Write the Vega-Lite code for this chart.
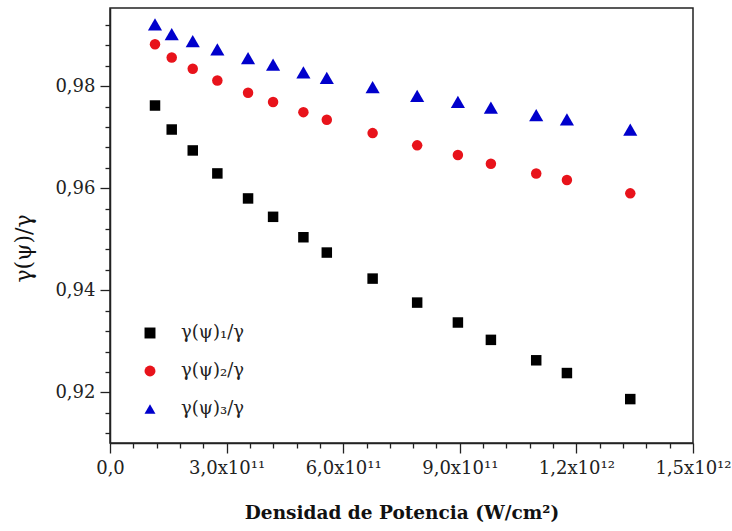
{
  "$schema": "https://vega.github.io/schema/vega-lite/v6.json",
  "autosize": {"type": "none"},
  "width": 583,
  "height": 435,
  "padding": {"left": 110, "top": 8, "right": 39, "bottom": 88},
  "background": "white",
  "config": {
    "font": "DejaVu Serif",
    "view": {"stroke": "#222", "strokeWidth": 1.5},
    "axis": {
      "domainColor": "#222",
      "domainWidth": 1.5,
      "tickColor": "#222",
      "tickWidth": 1.3,
      "grid": false,
      "labelFont": "DejaVu Serif",
      "labelFontSize": 18,
      "labelColor": "#222",
      "titleFont": "DejaVu Serif",
      "titleColor": "#111"
    },
    "legend": {
      "labelFont": "DejaVu Serif"
    }
  },
  "data": {
    "values": [
      {"serie": "γ(ψ)₁/γ", "P": 1.158e11, "g": 0.9762},
      {"serie": "γ(ψ)₁/γ", "P": 1.588e11, "g": 0.9715},
      {"serie": "γ(ψ)₁/γ", "P": 2.129e11, "g": 0.9674},
      {"serie": "γ(ψ)₁/γ", "P": 2.762e11, "g": 0.9629},
      {"serie": "γ(ψ)₁/γ", "P": 3.552e11, "g": 0.9580},
      {"serie": "γ(ψ)₁/γ", "P": 4.196e11, "g": 0.9544},
      {"serie": "γ(ψ)₁/γ", "P": 4.976e11, "g": 0.9504},
      {"serie": "γ(ψ)₁/γ", "P": 5.578e11, "g": 0.9474},
      {"serie": "γ(ψ)₁/γ", "P": 6.757e11, "g": 0.9423},
      {"serie": "γ(ψ)₁/γ", "P": 7.903e11, "g": 0.9376},
      {"serie": "γ(ψ)₁/γ", "P": 8.951e11, "g": 0.9337},
      {"serie": "γ(ψ)₁/γ", "P": 9.800e11, "g": 0.9303},
      {"serie": "γ(ψ)₁/γ", "P": 1.0966e12, "g": 0.9263},
      {"serie": "γ(ψ)₁/γ", "P": 1.1756e12, "g": 0.9238},
      {"serie": "γ(ψ)₁/γ", "P": 1.3386e12, "g": 0.9187},
      {"serie": "γ(ψ)₂/γ", "P": 1.158e11, "g": 0.9882},
      {"serie": "γ(ψ)₂/γ", "P": 1.588e11, "g": 0.9856},
      {"serie": "γ(ψ)₂/γ", "P": 2.129e11, "g": 0.9834},
      {"serie": "γ(ψ)₂/γ", "P": 2.762e11, "g": 0.9811},
      {"serie": "γ(ψ)₂/γ", "P": 3.552e11, "g": 0.9787},
      {"serie": "γ(ψ)₂/γ", "P": 4.196e11, "g": 0.9769},
      {"serie": "γ(ψ)₂/γ", "P": 4.976e11, "g": 0.9749},
      {"serie": "γ(ψ)₂/γ", "P": 5.578e11, "g": 0.9734},
      {"serie": "γ(ψ)₂/γ", "P": 6.757e11, "g": 0.9708},
      {"serie": "γ(ψ)₂/γ", "P": 7.903e11, "g": 0.9684},
      {"serie": "γ(ψ)₂/γ", "P": 8.951e11, "g": 0.9665},
      {"serie": "γ(ψ)₂/γ", "P": 9.800e11, "g": 0.9648},
      {"serie": "γ(ψ)₂/γ", "P": 1.0966e12, "g": 0.9629},
      {"serie": "γ(ψ)₂/γ", "P": 1.1756e12, "g": 0.9616},
      {"serie": "γ(ψ)₂/γ", "P": 1.3386e12, "g": 0.9590},
      {"serie": "γ(ψ)₃/γ", "P": 1.158e11, "g": 0.9921},
      {"serie": "γ(ψ)₃/γ", "P": 1.588e11, "g": 0.9902},
      {"serie": "γ(ψ)₃/γ", "P": 2.129e11, "g": 0.9888},
      {"serie": "γ(ψ)₃/γ", "P": 2.762e11, "g": 0.9872},
      {"serie": "γ(ψ)₃/γ", "P": 3.552e11, "g": 0.9855},
      {"serie": "γ(ψ)₃/γ", "P": 4.196e11, "g": 0.9842},
      {"serie": "γ(ψ)₃/γ", "P": 4.976e11, "g": 0.9827},
      {"serie": "γ(ψ)₃/γ", "P": 5.578e11, "g": 0.9816},
      {"serie": "γ(ψ)₃/γ", "P": 6.757e11, "g": 0.9798},
      {"serie": "γ(ψ)₃/γ", "P": 7.903e11, "g": 0.9781},
      {"serie": "γ(ψ)₃/γ", "P": 8.951e11, "g": 0.9769},
      {"serie": "γ(ψ)₃/γ", "P": 9.800e11, "g": 0.9758},
      {"serie": "γ(ψ)₃/γ", "P": 1.0966e12, "g": 0.9743},
      {"serie": "γ(ψ)₃/γ", "P": 1.1756e12, "g": 0.9735},
      {"serie": "γ(ψ)₃/γ", "P": 1.3386e12, "g": 0.9715}
    ]
  },
  "encoding": {
    "x": {
      "field": "P",
      "type": "quantitative",
      "scale": {"domain": [0, 1.5e12], "nice": false, "zero": false},
      "axis": {
        "title": "Densidad de Potencia (W/cm²)",
        "titleFontSize": 18.5,
        "titleFontWeight": "bold",
        "titleBaseline": "middle",
        "titleY": 69,
        "values": [0, 6e10, 1.2e11, 1.8e11, 2.4e11, 3e11, 3.6e11, 4.2e11, 4.8e11, 5.4e11, 6e11, 6.6e11, 7.2e11, 7.8e11, 8.4e11, 9e11, 9.6e11, 1.02e12, 1.08e12, 1.14e12, 1.2e12, 1.26e12, 1.32e12, 1.38e12, 1.44e12, 1.5e12],
        "tickSize": {"condition": {"test": "abs(datum.value/3e11 - round(datum.value/3e11)) < 0.001", "value": 10}, "value": 5},
        "labelPadding": 6,
        "labelOverlap": false,
        "labelFlush": false,
        "labelExpr": "abs(datum.value/3e11 - round(datum.value/3e11)) > 0.001 ? '' : datum.value == 0 ? '0,0' : datum.value < 1e12 ? replace(format(datum.value/1e11, '.1f'), '.', ',') + 'x10¹¹' : replace(format(datum.value/1e12, '.1f'), '.', ',') + 'x10¹²'"
      }
    },
    "y": {
      "field": "g",
      "type": "quantitative",
      "scale": {"domain": [0.9101, 0.9953], "nice": false, "zero": false},
      "axis": {
        "title": "γ(ψ)/γ",
        "titleFontSize": 22,
        "titleFontWeight": "normal",
        "titleBaseline": "middle",
        "titleAlign": "center",
        "titleX": -87,
        "titleY": 240,
        "values": [0.912, 0.916, 0.92, 0.924, 0.928, 0.932, 0.936, 0.94, 0.944, 0.948, 0.952, 0.956, 0.96, 0.964, 0.968, 0.972, 0.976, 0.98, 0.984, 0.988, 0.992],
        "tickSize": {"condition": {"test": "abs(datum.value*50 - round(datum.value*50)) < 0.001", "value": 10}, "value": 5},
        "labelPadding": 5,
        "labelOverlap": false,
        "labelFlush": false,
        "labelExpr": "abs(datum.value*50 - round(datum.value*50)) > 0.001 ? '' : replace(format(datum.value, '.2f'), '.', ',')"
      }
    },
    "color": {
      "field": "serie",
      "type": "nominal",
      "scale": {"domain": ["γ(ψ)₁/γ", "γ(ψ)₂/γ", "γ(ψ)₃/γ"], "range": ["#000000", "#e8131b", "#0000cc"]},
      "legend": {
        "title": null,
        "orient": "none",
        "legendX": 31,
        "legendY": 316,
        "padding": 0,
        "symbolSize": 120,
        "labelOffset": 22,
        "labelFontSize": 18,
        "labelColor": "#222",
        "rowPadding": 20
      }
    },
    "shape": {
      "field": "serie",
      "type": "nominal",
      "scale": {"domain": ["γ(ψ)₁/γ", "γ(ψ)₂/γ", "γ(ψ)₃/γ"], "range": ["square", "circle", "triangle-up"]}
    }
  },
  "layer": [
    {
      "transform": [{"filter": "datum.serie != 'γ(ψ)₃/γ'"}],
      "mark": {"type": "point", "filled": true, "opacity": 1, "size": 110}
    },
    {
      "transform": [{"filter": "datum.serie == 'γ(ψ)₃/γ'"}],
      "mark": {"type": "point", "filled": true, "opacity": 1, "size": 200}
    }
  ]
}
